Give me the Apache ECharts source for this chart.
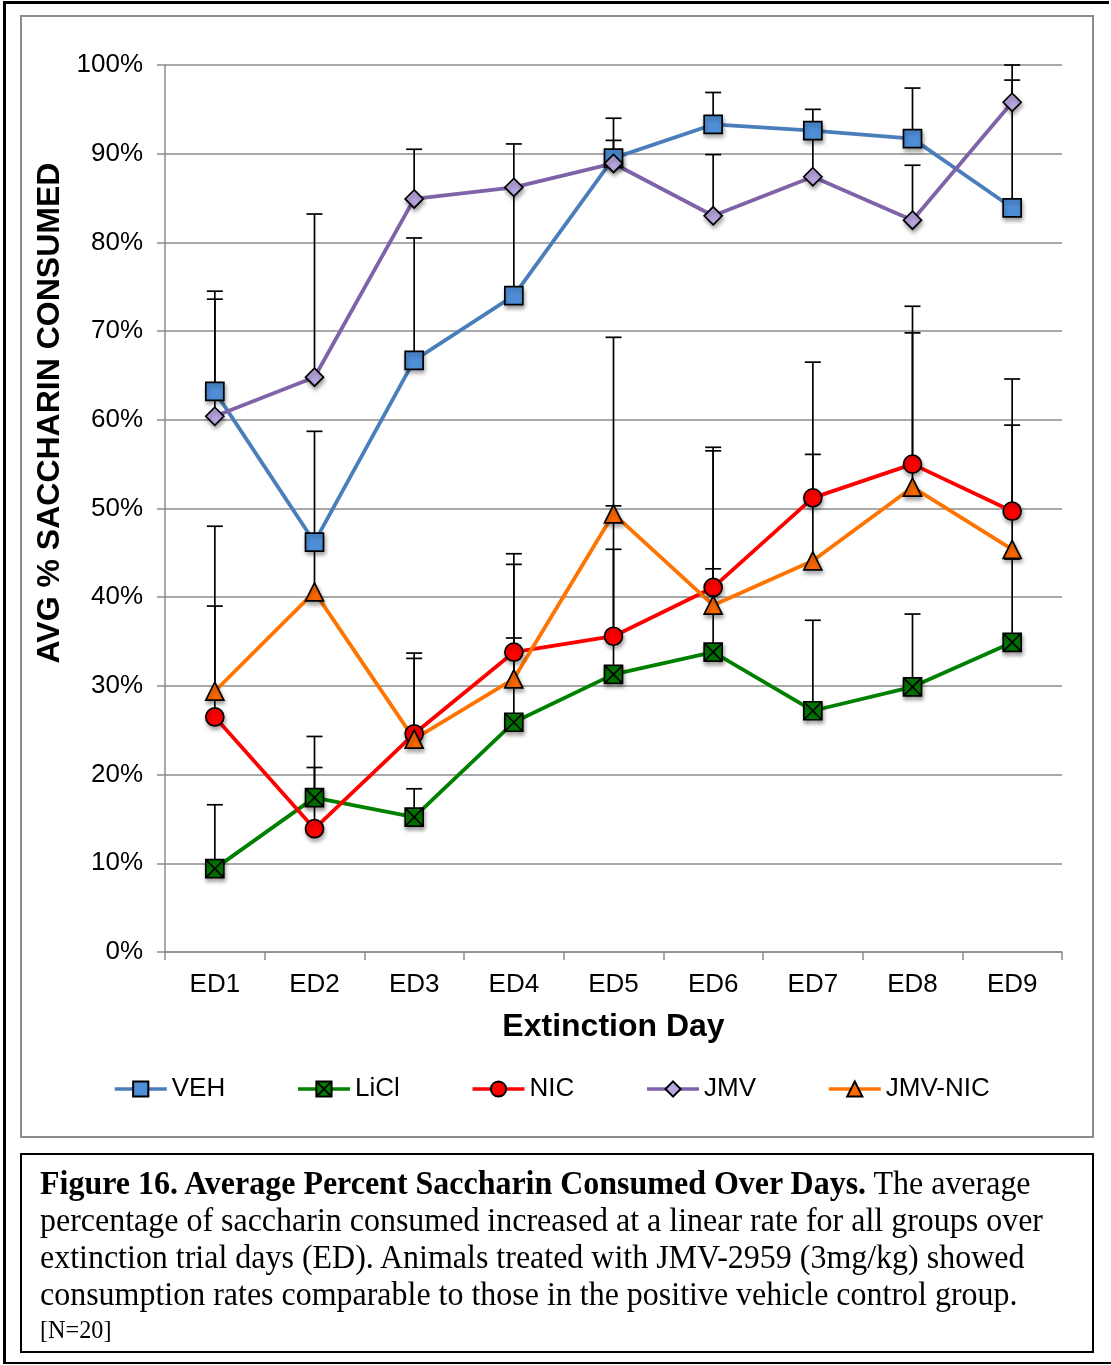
<!DOCTYPE html>
<html>
<head>
<meta charset="utf-8">
<script src="https://cdn.jsdelivr.net/npm/echarts@6/dist/echarts.min.js"></script>
<style>
  html, body { margin: 0; padding: 0; background: #fff; }
  #page { position: relative; width: 1111px; height: 1365px; overflow: hidden; }
  #chart { position: absolute; left: 0; top: 0; width: 1111px; height: 1365px; }
  .frame-left { position: absolute; left: 3px; top: 1px; width: 3px; height: 1363px; background: #000; }
  .frame-top { position: absolute; left: 3px; top: 1px; width: 1106px; height: 3px; background: #000; }
  .frame-bottom { position: absolute; left: 3px; top: 1362px; width: 1108px; height: 2px; background: #000; }
  .chart-box { position: absolute; left: 20px; top: 15px; width: 1070px; height: 1119px; border: 2px solid #8c8c8c; }
  .caption { position: absolute; left: 20px; top: 1153px; width: 1070px; height: 196px; border: 2px solid #000;
             font-family: "Liberation Serif", "Times New Roman", serif; color: #000; }
  .caption .ln { position: absolute; left: 18px; white-space: nowrap; font-size: 33px; line-height: 37px; transform-origin: 0 50%; }
  .caption .small { font-size: 25px; }
</style>
</head>
<body>
<div id="page">
  <div class="chart-box"></div>
  <div id="chart"></div>
  <div class="caption">
    <div class="ln" style="top:10px"><b>Figure 16. Average Percent Saccharin Consumed Over Days.</b> The average</div>
    <div class="ln" style="top:47px">percentage of saccharin consumed increased at a linear rate for all groups over</div>
    <div class="ln" style="top:84px">extinction trial days (ED). Animals treated with JMV-2959 (3mg/kg) showed</div>
    <div class="ln" style="top:121px">consumption rates comparable to those in the positive vehicle control group.</div>
    <div class="ln small" style="top:156px">[N=20]</div>
  </div>
  <div class="frame-left"></div>
  <div class="frame-top"></div>
  <div class="frame-bottom"></div>
</div>
<script>
// Extinction days
const categories = ['ED1', 'ED2', 'ED3', 'ED4', 'ED5', 'ED6', 'ED7', 'ED8', 'ED9'];

// Mean % saccharin consumed per group
const veh    = [63.2, 46.2, 66.7, 74.0, 89.5, 93.3, 92.6, 91.7, 83.9];
const licl   = [9.4, 17.4, 15.2, 25.9, 31.3, 33.8, 27.2, 29.9, 34.9];
const nic    = [26.5, 13.9, 24.6, 33.8, 35.6, 41.1, 51.2, 55.0, 49.7];
const jmv    = [60.4, 64.8, 84.9, 86.2, 88.9, 83.0, 87.4, 82.5, 95.8];
const jmvNic = [29.4, 40.6, 24.0, 30.8, 49.4, 39.1, 44.1, 52.4, 45.4];

// Upper error (SEM) per group
const vehErr    = [11.3, 12.5, 13.8, 12.2, 4.5, 3.6, 2.4, 5.7, 14.4];
const liclErr   = [7.2, 6.9, 3.2, 9.5, 14.1, 9.4, 10.2, 8.2, 9.4];
const nicErr    = [12.5, 6.9, 9.1, 11.1, 14.7, 15.8, 15.3, 17.8, 14.9];
const jmvErr    = [13.2, 18.4, 5.6, 4.9, 2.6, 6.9, 5.2, 6.2, 4.2];
const jmvNicErr = [18.6, 5.6, 9.1, 12.9, 19.9, 17.4, 12.0, 17.4, 14.0];

// Y-axis ticks
const yMin = 0, yMax = 100, yStep = 10;

const groups = [
  { name: 'VEH',     data: veh,    err: vehErr,    line: '#4a7ebb', fill: '#4f8fd8', symbol: 'rect' },
  { name: 'LiCl',    data: licl,   err: liclErr,   line: '#008000', fill: '#008000', symbol: 'path://M0,0L20,0L20,20L0,20Z M0,0L20,20 M20,0L0,20' },
  { name: 'NIC',     data: nic,    err: nicErr,    line: '#ff0000', fill: '#ff0000', symbol: 'circle' },
  { name: 'JMV',     data: jmv,    err: jmvErr,    line: '#7f63a8', fill: '#b9a6e0', symbol: 'diamond' },
  { name: 'JMV-NIC', data: jmvNic, err: jmvNicErr, line: '#ff7400', fill: '#ff6a00', symbol: 'triangle' }
];

function errorBarSeries(g) {
  return {
    type: 'custom',
    name: g.name + ' error',
    z: 1,
    silent: true,
    data: g.data.map((v, i) => [i, v, v + g.err[i]]),
    renderItem: function (params, api) {
      const base = api.coord([api.value(0), api.value(1)]);
      const top = api.coord([api.value(0), api.value(2)]);
      const half = 8;
      const style = { stroke: '#000', lineWidth: 1.7 };
      return {
        type: 'group',
        children: [
          { type: 'line', shape: { x1: base[0], y1: base[1], x2: top[0], y2: top[1] }, style: style },
          { type: 'line', shape: { x1: top[0] - half, y1: top[1], x2: top[0] + half, y2: top[1] }, style: style }
        ]
      };
    }
  };
}

function lineSeries(g) {
  return {
    type: 'line',
    name: g.name,
    z: 3,
    data: g.data,
    symbol: g.symbol,
    symbolSize: 18,
    lineStyle: { color: g.line, width: 3.8 },
    itemStyle: {
      color: g.fill,
      borderColor: '#000',
      borderWidth: 1.7,
      shadowBlur: 4,
      shadowOffsetX: 1,
      shadowOffsetY: 3,
      shadowColor: 'rgba(0,0,0,0.35)'
    },
    emphasis: { disabled: true }
  };
}

const chart = echarts.init(document.getElementById('chart'), null, { renderer: 'canvas' });

const axisGray = '#8c8c8c';
const fontFamily = '"Liberation Sans", Arial, Helvetica, sans-serif';

chart.setOption({
  animation: false,
  backgroundColor: 'transparent',
  textStyle: { fontFamily: fontFamily },
  grid: { left: 165, right: 49, top: 65, bottom: 413, containLabel: false },
  legend: {
    data: groups.map(g => g.name),
    left: 108,
    top: 1071,
    itemWidth: 52,
    itemHeight: 19,
    itemGap: 71,
    lineStyle: { width: 3.5 },
    textStyle: { fontSize: 26, color: '#000', fontFamily: fontFamily },
    selectedMode: false
  },
  graphic: [{
    type: 'text',
    x: 50,
    y: 413,
    rotation: Math.PI / 2,
    style: {
      text: 'AVG % SACCHARIN CONSUMED',
      fontSize: 32,
      fontWeight: 'bold',
      fontFamily: fontFamily,
      fill: '#000',
      align: 'center',
      verticalAlign: 'middle'
    }
  }],
  xAxis: {
    type: 'category',
    data: categories,
    boundaryGap: true,
    name: 'Extinction Day',
    nameLocation: 'middle',
    nameGap: 59,
    nameTextStyle: { fontSize: 32, fontWeight: 'bold', color: '#000', fontFamily: fontFamily },
    axisLine: { lineStyle: { color: axisGray, width: 1.5 } },
    axisTick: { show: true, length: 8, alignWithLabel: false, lineStyle: { color: axisGray, width: 1.5 } },
    axisLabel: { fontSize: 26, color: '#000', margin: 20, fontFamily: fontFamily },
    splitLine: { show: false }
  },
  yAxis: {
    type: 'value',
    min: yMin,
    max: yMax,
    interval: yStep,
    axisLine: { show: true, lineStyle: { color: axisGray, width: 1.5 } },
    axisTick: { show: true, length: 8, lineStyle: { color: axisGray, width: 1.5 } },
    axisLabel: { fontSize: 26, color: '#000', margin: 22, formatter: '{value}%', fontFamily: fontFamily },
    splitLine: { show: true, lineStyle: { color: axisGray, width: 1.5 } }
  },
  series: groups.map(errorBarSeries).concat(groups.map(lineSeries))
});

// Fit caption lines to the box width with a common horizontal scale
(function () {
  const lines = document.querySelectorAll('.caption .ln');
  const ref = lines[1];
  const scale = 1003 / ref.getBoundingClientRect().width;
  lines.forEach(function (el) { el.style.transform = 'scaleX(' + scale + ')'; });
})();
</script>
</body>
</html>
